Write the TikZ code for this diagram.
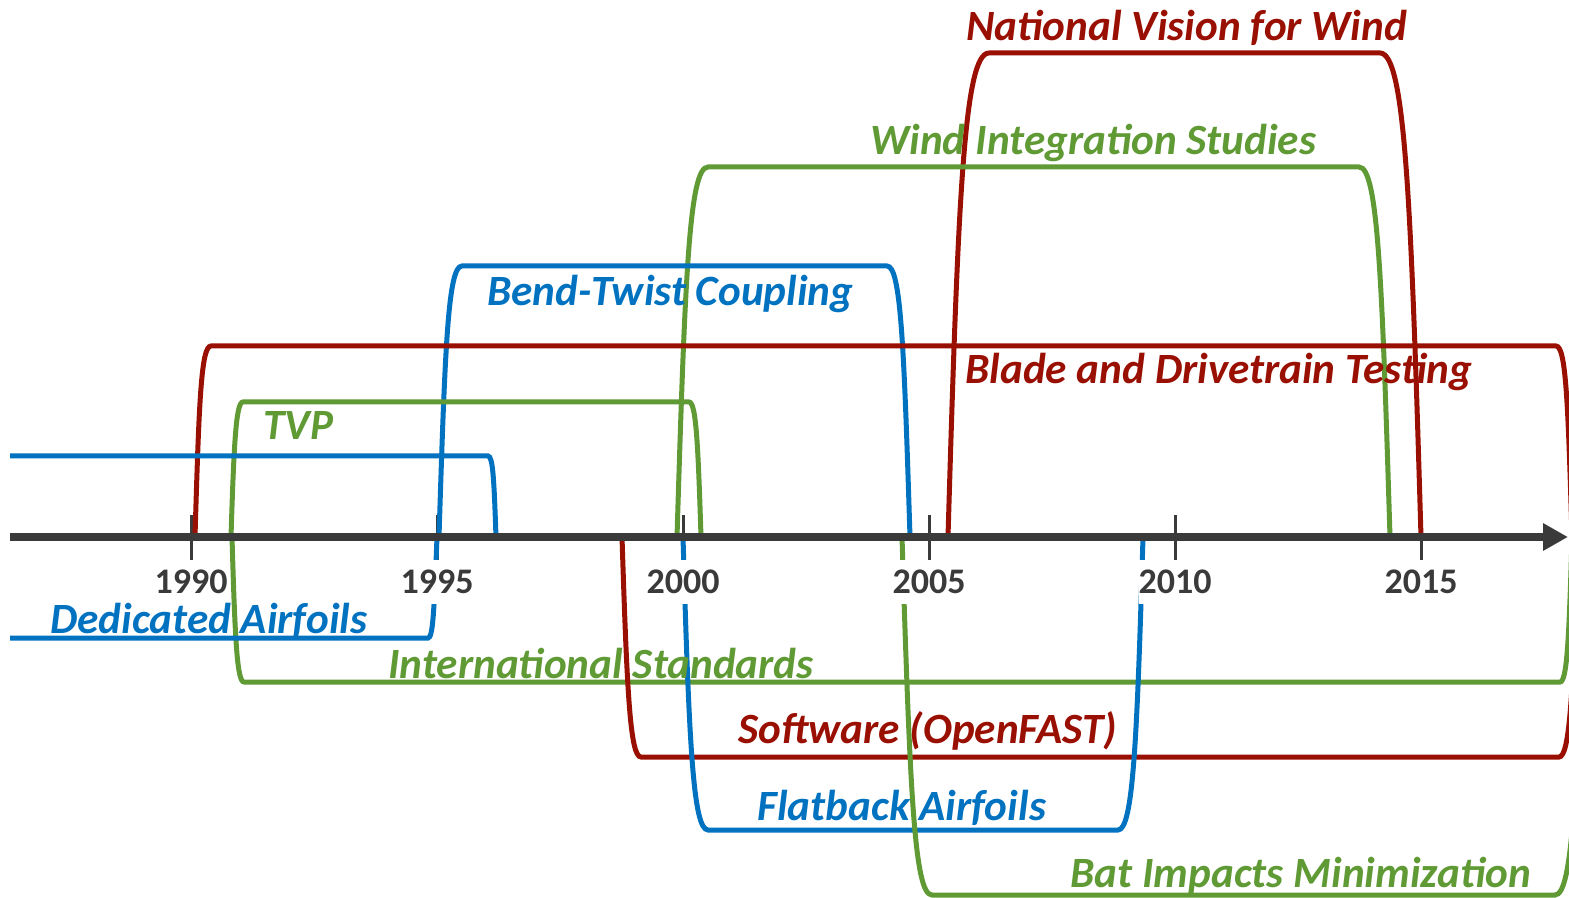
\documentclass[tikz,border=0pt]{standalone}
\usepackage{fontspec}
\setmainfont{Carlito}
\usetikzlibrary{arrows.meta}
\definecolor{wred}{HTML}{990F02}
\definecolor{wgreen}{HTML}{5F9A35}
\definecolor{wblue}{HTML}{0072C0}
\definecolor{axisgray}{HTML}{3A3A3A}
\newcommand\projfont{\fontsize{21.6}{25}\selectfont\bfseries\itshape}
\newcommand\yearfont{\fontsize{18}{21}\selectfont\bfseries}
\begin{document}
\begin{tikzpicture}[x=0.5pt,y=-0.5pt,
    projline/.style={line width=2.5pt},
    projlabel/.style={font=\projfont, inner sep=0pt, anchor=base west},
    axisline/.style={line width=4pt, draw=axisgray, -{Triangle[length=12.5pt,width=13pt]}},
    tickmark/.style={line width=1.5pt, draw=axisgray},
    yearlabel/.style={font=\yearfont, text=axisgray, fill=white, inner xsep=0pt, inner ysep=0pt, minimum height=22pt}]
  \useasboundingbox (0,0) rectangle (1569,898);
  \foreach \yr [count=\i from 0] in {1990,1995,2000,2005,2010,2015}
    \draw[tickmark] ({191+246*\i},515) -- ({191+246*\i},560);
  \begin{scope}
    \clip (0,0) rectangle (1569,898);
    % above the axis
    \draw[projline, wred] (948,537) .. controls (958,198) and (964,53) .. (989,53)
      -- (1380,53) .. controls (1405,53) and (1411,198) .. (1421,537);
    \draw[projline, wgreen] (677,537) .. controls (685,278) and (689,167) .. (708,167)
      -- (1359,167) .. controls (1378,167) and (1382,278) .. (1390,537);
    \draw[projline, wblue] (439,537) .. controls (445,347) and (448,266) .. (462,266)
      -- (887,266) .. controls (901,266) and (904,347) .. (910,537);
    \draw[projline, wred] (195,537) .. controls (199,403) and (201,346) .. (211,346)
      -- (1556,346) .. controls (1566,346) and (1568,403) .. (1572,537);
    \draw[projline, wgreen] (231,537) .. controls (234,442) and (236,402) .. (243,402)
      -- (689,402) .. controls (696,402) and (698,442) .. (701,537);
    \draw[projline, wblue] (10,456) -- (488,456) .. controls (493,456) and (494,480) .. (496,537);
    % below the axis
    \draw[projline, wgreen] (232,537) .. controls (235,639) and (237,682) .. (244,682)
      -- (1560,682) .. controls (1567,682) and (1569,639) .. (1572,537);
    \draw[projline, wred] (622,537) .. controls (627,691) and (630,757) .. (641,757)
      -- (1559,757) .. controls (1570,757) and (1573,691) .. (1578,537);
    \draw[projline, wblue] (683,537) .. controls (689,742) and (693,830) .. (708,830)
      -- (1118,830) .. controls (1133,830) and (1137,742) .. (1143,537);
    \draw[projline, wgreen] (902,537) .. controls (910,788) and (914,895) .. (932,895)
      -- (1555,895) .. controls (1573,895) and (1577,788) .. (1585,537);
    \draw[projline, wblue] (10,638) -- (428,638) .. controls (433,638) and (434,612) .. (437,537);
  \end{scope}
  \draw[axisline] (10,537) -- (1568,537);
  \foreach \yr [count=\i from 0] in {1990,1995,2000,2005,2010,2015}
    \node[yearlabel] (y\yr) at ({191+246*\i},582) {\yr};
  \node[projlabel, wred] (nvw) at (966,41) {National Vision for Wind};
  \node[projlabel, wgreen] (wis) at (870,155) {Wind Integration Studies};
  \node[projlabel, wblue] (btc) at (487,306) {Bend-Twist Coupling};
  \node[projlabel, wred] (bdt) at (965,384) {Blade and Drivetrain Testing};
  \node[projlabel, wgreen] (tvp) at (263,440) {TVP};
  \node[projlabel, wblue] (dea) at (50,633) {Dedicated Airfoils};
  \node[projlabel, wgreen] (ins) at (388,678) {International Standards};
  \node[projlabel, wred] (sof) at (738,743) {Software (OpenFAST)};
  \node[projlabel, wblue] (fla) at (757,820) {Flatback Airfoils};
  \node[projlabel, wgreen] (bim) at (1070,887) {Bat Impacts Minimization};
\end{tikzpicture}
\end{document}
